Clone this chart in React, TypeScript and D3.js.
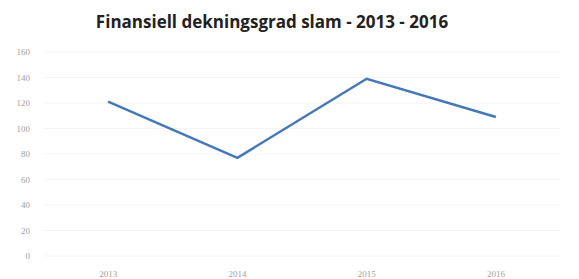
import React from "react";
import * as d3 from "d3";

const categories = ["2013", "2014", "2015", "2016"];
const values = [121, 77, 139, 109];
const yTicks = [0, 20, 40, 60, 80, 100, 120, 140, 160];
const title = "Finansiell dekningsgrad slam - 2013 - 2016";

export default function App() {
  const W = 579, H = 279;
  const left = 43.5, right = 560.5, top = 52, bottom = 256;
  const x = d3.scaleBand<string>().domain(categories).range([left, right]);
  const y = d3.scaleLinear().domain([0, 160]).range([bottom, top]);
  const line = d3
    .line<number>()
    .x((_, i) => (x(categories[i]) as number) + x.bandwidth() / 2)
    .y((d) => y(d));
  return (
    <svg
      width={W}
      height={H}
      style={{ position: "absolute", left: 0, top: 0, background: "#fff" }}
    >
      <text
        x={272}
        y={27.5}
        textAnchor="middle"
        fontFamily="'Open Sans', sans-serif"
        fontWeight="bold"
        fontSize={17}
        fill="#222"
      >
        {title}
      </text>
      {yTicks.map((t) => (
        <g key={t}>
          <line
            x1={left}
            x2={right}
            y1={y(t)}
            y2={y(t)}
            stroke="#f4f4f4"
            strokeWidth={1}
          />
          <text
            x={30}
            y={y(t) + 3}
            textAnchor="end"
            fontFamily="'Liberation Serif', serif"
            fontSize={9}
            fill="#a0a0a0"
          >
            {t}
          </text>
        </g>
      ))}
      {categories.map((c) => (
        <text
          key={c}
          x={(x(c) as number) + x.bandwidth() / 2}
          y={277}
          textAnchor="middle"
          fontFamily="'Liberation Serif', serif"
          fontSize={9}
          fill="#a0a0a0"
        >
          {c}
        </text>
      ))}
      <path
        d={line(values) as string}
        fill="none"
        stroke="#4478b8"
        strokeWidth={2.5}
        strokeLinejoin="miter"
      />
    </svg>
  );
}
